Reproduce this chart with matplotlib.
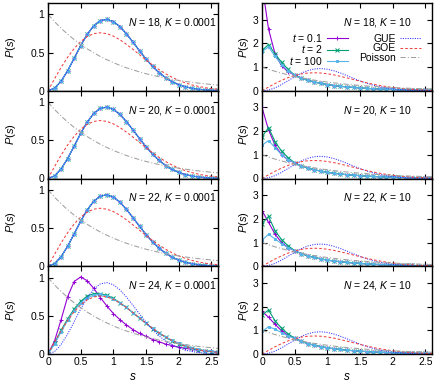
import matplotlib.pyplot as plt
import numpy as np

plt.rcParams['font.family'] = 'Liberation Sans'
plt.rcParams['font.size'] = 7.5
plt.rcParams['mathtext.fontset'] = 'custom'
plt.rcParams['mathtext.it'] = 'Liberation Sans:italic'
plt.rcParams['mathtext.rm'] = 'Liberation Sans'

# level spacing s (bin centres)
s = np.round(np.arange(0, 2.61, 0.1), 2)

# reference distributions
gue = [0, 0.032, 0.123, 0.260, 0.423, 0.590, 0.738, 0.851, 0.919, 0.936, 0.908,
       0.841, 0.747, 0.637, 0.524, 0.416, 0.319, 0.236, 0.170, 0.118, 0.080,
       0.052, 0.033, 0.020, 0.012, 0.007, 0.004]
goe = [0, 0.156, 0.305, 0.439, 0.554, 0.645, 0.710, 0.748, 0.760, 0.748, 0.716,
       0.668, 0.608, 0.542, 0.472, 0.403, 0.337, 0.276, 0.222, 0.175, 0.136,
       0.103, 0.077, 0.057, 0.041, 0.029, 0.020]
poisson = [1.0, 0.905, 0.819, 0.741, 0.670, 0.607, 0.549, 0.497, 0.449, 0.407,
           0.368, 0.333, 0.301, 0.273, 0.247, 0.223, 0.202, 0.183, 0.165, 0.150,
           0.135, 0.122, 0.111, 0.100, 0.091, 0.082, 0.074]

# K = 0.0001, N = 18, 20, 22: all times sit on GUE
weak_small_N = [0, 0.034, 0.125, 0.262, 0.425, 0.592, 0.740, 0.852, 0.920, 0.935,
                0.906, 0.840, 0.745, 0.636, 0.523, 0.415, 0.318, 0.236, 0.170,
                0.118, 0.080, 0.052, 0.033, 0.020, 0.012, 0.007, 0.004]

# K = 0.0001, N = 24
weak_24_t01 = [0, 0.17, 0.45, 0.75, 0.95, 1.01, 0.96, 0.86, 0.74, 0.63, 0.53,
               0.45, 0.38, 0.32, 0.27, 0.23, 0.19, 0.16, 0.13, 0.11, 0.09, 0.075,
               0.06, 0.05, 0.04, 0.035, 0.03]
weak_24_t2 = [0, 0.14, 0.31, 0.46, 0.59, 0.69, 0.76, 0.79, 0.79, 0.77, 0.73,
              0.67, 0.61, 0.54, 0.47, 0.40, 0.33, 0.27, 0.22, 0.17, 0.13, 0.10,
              0.075, 0.055, 0.04, 0.03, 0.02]
weak_24_t100 = [0, 0.13, 0.29, 0.44, 0.57, 0.67, 0.74, 0.77, 0.78, 0.76, 0.72,
                0.67, 0.61, 0.54, 0.47, 0.40, 0.34, 0.28, 0.22, 0.18, 0.14, 0.11,
                0.08, 0.06, 0.045, 0.033, 0.024]

# K = 10: peak near s = 0 (s = 0 .. 0.4), then a common tail (s = 0.5 .. 2.6)
strong_tail = [0.66, 0.53, 0.44, 0.37, 0.31, 0.26, 0.22, 0.19, 0.16, 0.14, 0.12,
               0.10, 0.085, 0.072, 0.062, 0.053, 0.045, 0.039, 0.033, 0.028,
               0.024, 0.021]
strong_head = {
    18: ([4.5, 2.6, 1.55, 1.05, 0.80], [1.7, 1.95, 1.55, 1.2, 0.90], [1.65, 1.85, 1.45, 1.1, 0.85]),
    20: ([3.0, 2.05, 1.4, 1.0, 0.78], [1.75, 2.15, 1.55, 1.15, 0.88], [1.4, 1.6, 1.3, 1.0, 0.80]),
    22: ([2.35, 1.85, 1.35, 1.0, 0.78], [1.8, 2.1, 1.5, 1.12, 0.86], [1.1, 1.35, 1.15, 0.95, 0.78]),
    24: ([1.8, 1.55, 1.25, 0.98, 0.78], [1.65, 1.85, 1.4, 1.08, 0.85], [0.95, 1.15, 1.05, 0.9, 0.76]),
}

sizes = [18, 20, 22, 24]
times = ['0.1', '2', '100']
t_colors = ['#9400d3', '#009e73', '#56b4e9']
t_markers = ['+', 'x', 's']
t_msize = [3, 2.6, 1.8]

fig = plt.figure(figsize=(4.36, 3.82), dpi=100)
W, H = 436, 382
top, bottom = 3, 354
row_h = (bottom - top) / 4


def style_axes(ax, ylim, yticks, yticklabels, last):
    ax.set_xlim(0, 2.6)
    ax.set_ylim(*ylim)
    ax.set_xticks([0, 0.5, 1, 1.5, 2, 2.5])
    ax.set_yticks(yticks)
    ax.set_yticklabels(yticklabels)
    if last:
        ax.set_xticklabels(['0', '0.5', '1', '1.5', '2', '2.5'])
        ax.set_xlabel('$s$', fontsize=8.5)
    else:
        ax.set_xticklabels([])
    ax.tick_params(direction='in', top=True, right=True, length=3.5, width=0.8, pad=2.5)
    for sp in ax.spines.values():
        sp.set_linewidth(1.0)
    ax.set_ylabel('$P$($s$)', fontsize=8)


for i, N in enumerate(sizes):
    y0 = 1 - (top + (i + 1) * row_h) / H
    last = i == 3

    # left column, K = 0.0001
    axl = fig.add_axes([48 / W, y0, 170 / W, row_h / H])
    if N == 24:
        series = [weak_24_t01, weak_24_t2, weak_24_t100]
    else:
        series = [weak_small_N] * 3
    for vals, c, m, ms, t in zip(series, t_colors, t_markers, t_msize, times):
        axl.plot(s, vals, color=c, marker=m, ms=ms, mew=0.7, lw=0.8,
                 label='$t$ = ' + t)
    # right column, K = 10
    axr = fig.add_axes([262 / W, y0, 170 / W, row_h / H])
    for head, c, m, ms, t in zip(strong_head[N], t_colors, t_markers, t_msize, times):
        axr.plot(s, head + strong_tail, color=c, marker=m, ms=ms, mew=0.7, lw=0.8,
                 label='$t$ = ' + t)

    for ax in (axl, axr):
        ax.plot(s, gue, color='#3030ff', ls=(0, (1, 1.3)), lw=0.75, label='GUE')
        ax.plot(s, goe, color='#f04040', ls=(0, (2.5, 2)), lw=0.75, label='GOE')
        ax.plot(s, poisson, color='#a0a0a0', ls=(0, (5, 2, 1, 2)), lw=0.75, label='Poisson')

    style_axes(axl, (0, 1.15), [0, 0.5, 1], ['0', '0.5', '1'], last)
    style_axes(axr, (0, 3.7), [0, 1, 2, 3], ['0', '1', '2', '3'], last)
    axl.yaxis.set_label_coords(-0.175, 0.5)
    axr.yaxis.set_label_coords(-0.065, 0.5)
    if last:
        axl.xaxis.set_label_coords(0.5, -0.19)
        axr.xaxis.set_label_coords(0.5, -0.19)

    axl.text(0.47, 0.78, '$N$ = %d, $K$ = 0.0001' % N, transform=axl.transAxes,
             ha='left', va='center')
    axr.text(0.475, 0.78, '$N$ = %d, $K$ = 10' % N, transform=axr.transAxes,
             ha='left', va='center')

    if i == 0:
        axr.legend(ncol=2, markerfirst=False, frameon=False, loc='upper right',
                   bbox_to_anchor=(0.935, 0.67), borderpad=0, borderaxespad=0,
                   handlelength=2.0, handletextpad=0.4, columnspacing=1.1,
                   labelspacing=-0.05, numpoints=1)

fig.savefig('out.png', dpi=100)
